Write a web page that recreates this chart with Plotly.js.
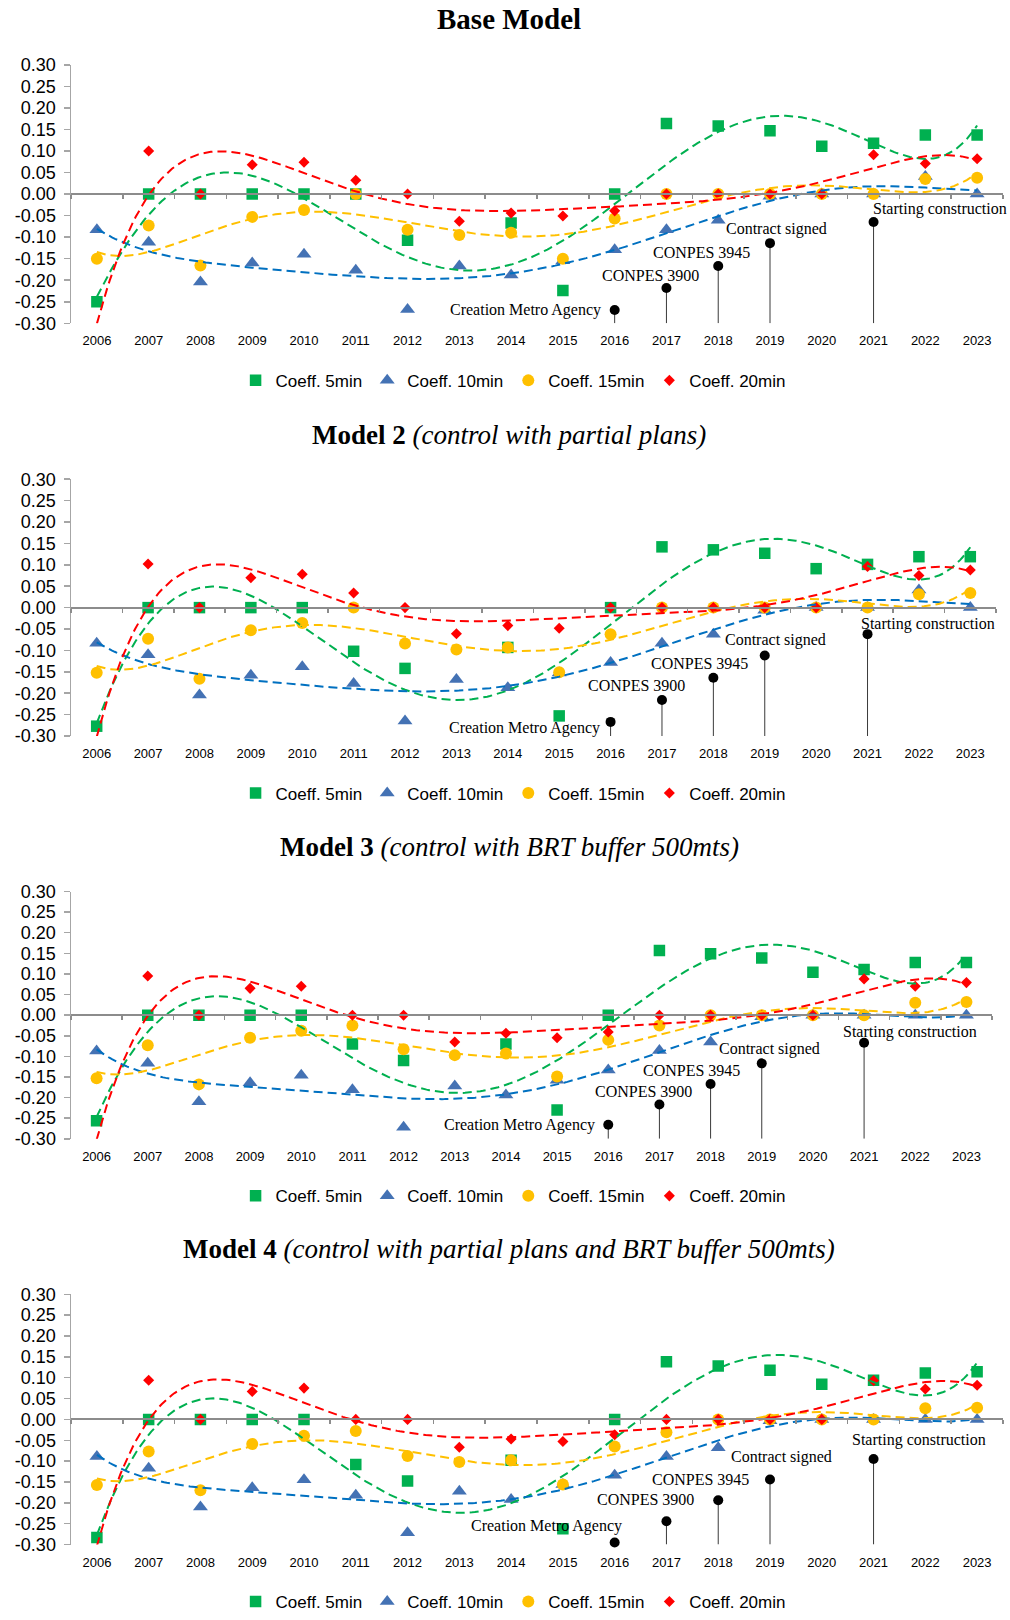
<!DOCTYPE html>
<html><head><meta charset="utf-8">
<script src="https://cdn.plot.ly/plotly-3.0.1.min.js"></script>
<style>html,body{margin:0;padding:0;background:#fff}#chart{width:1010px;height:1620px}</style>
</head><body><div id="chart"></div>
<script>
// ---------- DATA ----------
const years = [2006,2007,2008,2009,2010,2011,2012,2013,2014,2015,2016,2017,2018,2019,2020,2021,2022,2023];
const yTickVals = [-0.30,-0.25,-0.20,-0.15,-0.10,-0.05,0,0.05,0.10,0.15,0.20,0.25,0.30];
const yTickText = ['-0.30','-0.25','-0.20','-0.15','-0.10','-0.05','0.00','0.05','0.10','0.15','0.20','0.25','0.30'];
const seriesNames = ['Coeff. 5min','Coeff. 10min','Coeff. 15min','Coeff. 20min'];
const titleBold = ['Base Model','Model 2','Model 3','Model 4'];
const titleItalic = ['','(control with partial plans)','(control with BRT buffer 500mts)','(control with partial plans and BRT buffer 500mts)'];
const eventYears = [2016,2017,2018,2019,2021];
const eventLabels = ['Creation Metro Agency','CONPES 3900','CONPES 3945','Contract signed','Starting construction'];

// Base Model (values below -0.30 lie outside the plotted range, as in the original)
const base5  = [-0.250,0,0,0,0,0,-0.107,-0.320,-0.067,-0.224,0,0.164,0.158,0.147,0.111,0.118,0.137,0.137];
const base10 = [-0.083,-0.112,-0.204,-0.160,-0.140,-0.177,-0.268,-0.167,-0.188,-0.155,-0.129,-0.083,-0.061,-0.005,0,0,0.041,0];
const base15 = [-0.150,-0.073,-0.166,-0.053,-0.037,0,-0.083,-0.095,-0.090,-0.150,-0.057,0,0,0,0,0,0.035,0.038];
const base20 = [-0.330,0.100,0,0.068,0.074,0.032,0,-0.063,-0.044,-0.051,-0.039,0,0,0,0,0.091,0.071,0.082];
const baseEvents = [-0.269,-0.218,-0.167,-0.114,-0.065];

// Model 2
const m2_5  = [-0.277,0,0,0,0,-0.102,-0.142,-0.350,-0.093,-0.253,0,0.142,0.135,0.127,0.091,0.101,0.119,0.119];
const m2_10 = [-0.083,-0.110,-0.204,-0.158,-0.138,-0.177,-0.265,-0.168,-0.187,-0.153,-0.128,-0.083,-0.062,-0.006,0,0,0.041,0];
const m2_15 = [-0.152,-0.073,-0.166,-0.053,-0.036,0,-0.084,-0.098,-0.093,-0.151,-0.062,0,0,0,0,0,0.031,0.034];
const m2_20 = [-0.330,0.102,0,0.070,0.078,0.034,0,-0.061,-0.042,-0.048,0,0,0,0,0,0.096,0.075,0.088];
const m2Events = [-0.267,-0.216,-0.164,-0.112,-0.062];

// Model 3
const m3_5  = [-0.256,0,0,0,0,-0.070,-0.110,-0.320,-0.070,-0.230,0,0.157,0.149,0.139,0.104,0.111,0.128,0.128];
const m3_10 = [-0.087,-0.117,-0.210,-0.164,-0.146,-0.181,-0.272,-0.172,-0.194,-0.158,-0.133,-0.086,-0.065,-0.004,0,0,0,0];
const m3_15 = [-0.153,-0.073,-0.168,-0.055,-0.038,-0.025,-0.083,-0.097,-0.093,-0.149,-0.060,-0.025,0,0,0,0,0.030,0.032];
const m3_20 = [-0.330,0.095,0,0.065,0.070,0,0,-0.065,-0.044,-0.055,-0.041,0,0,0,0,0.088,0.070,0.079];
const m3Events = [-0.266,-0.217,-0.167,-0.117,-0.067];

// Model 4
const m4_5  = [-0.283,0,0,0,0,-0.108,-0.148,-0.365,-0.098,-0.262,0,0.138,0.128,0.118,0.084,0.094,0.111,0.114];
const m4_10 = [-0.089,-0.117,-0.210,-0.164,-0.145,-0.182,-0.272,-0.172,-0.192,-0.156,-0.134,-0.089,-0.068,-0.003,0,0,0,0];
const m4_15 = [-0.157,-0.077,-0.170,-0.059,-0.039,-0.028,-0.088,-0.102,-0.098,-0.156,-0.065,-0.031,0,0,0,0,0.027,0.028];
const m4_20 = [-0.330,0.094,0,0.067,0.075,0,0,-0.067,-0.047,-0.053,-0.037,0,0,0,0,0.093,0.073,0.082];
const m4Events = [-0.295,-0.244,-0.194,-0.144,-0.095];

// ---------- STYLE / LAYOUT CONFIG ----------
const panelSeries = [[base5,base10,base15,base20],[m2_5,m2_10,m2_15,m2_20],[m3_5,m3_10,m3_15,m3_20],[m4_5,m4_10,m4_15,m4_20]];
const panelEvents = [baseEvents,m2Events,m3Events,m4Events];
const markerStyle = [
  {symbol:'square', color:'#00B050', size:11.5},
  {symbol:'triangle-up', color:'#4472B4', size:13},
  {symbol:'circle', color:'#FFC000', size:12},
  {symbol:'diamond', color:'#FF0000', size:8.5}
];
const trendColor = ['#00B050','#0070C0','#FFC000','#FF0000'];
const H = 1620, W = 1010;
// pixel boxes of the plot areas [left,right,top,bottom]
const boxes = [[71,1003,65,324.3],[71,996,480.7,738.3],[71,992,894.3,1142.3],[71,1003,1298.3,1549.3]];
const titleY = [19,436,850,1253];
const titleSize = [29,27,27,27];
const legendY = [382,796,1200,1607];
// label offsets (px) relative to the event dot: [xanchor, xshift, yshift]
const labelOffsets = [
  [['right',-12,0],['center',-16,12],['center',-17,13],['center',6,14],['center',66,13]],
  [['right',-9,-6],['center',-25,15],['center',-14,14],['center',11,16],['center',60,10]],
  [['right',-11,0],['center',-16,13],['center',-19,13],['center',8,14],['center',46,11]],
  [['center',-68,16],['center',-21,22],['center',-18,21],['center',11,22],['center',45,19]]
];

function polyTrend(vals, deg) {
  const n = deg + 1, c = 9.5, s = 8.5;
  const M = Array.from({length: n}, () => new Array(n + 1).fill(0));
  vals.forEach((v, i) => {
    if (v === null) return;
    const t = ((i + 1) - c) / s;
    const p = [];
    for (let k = 0; k < 2 * n; k++) p.push(Math.pow(t, k));
    for (let a = 0; a < n; a++) {
      for (let b = 0; b < n; b++) M[a][b] += p[a + b];
      M[a][n] += p[a] * v;
    }
  });
  for (let col = 0; col < n; col++) {
    let piv = col;
    for (let r = col + 1; r < n; r++) if (Math.abs(M[r][col]) > Math.abs(M[piv][col])) piv = r;
    const tmp = M[col]; M[col] = M[piv]; M[piv] = tmp;
    for (let r = 0; r < n; r++) {
      if (r === col) continue;
      const f = M[r][col] / M[col][col];
      for (let k = col; k <= n; k++) M[r][k] -= f * M[col][k];
    }
  }
  const coef = M.map((row, i) => row[n] / row[i]);
  return idx => { const t = (idx - c) / s; let v = 0; for (let i = n - 1; i >= 0; i--) v = v * t + coef[i]; return v; };
}

const fineIdx = [];
for (let k = 0; k <= 340; k++) fineIdx.push(1 + k * 0.05);
const fineYears = fineIdx.map(i => years[0] - 1 + i);
const boundaries = years.map(y => y - 0.5).concat([years[years.length - 1] + 0.5]);

const traces = [];
const annotations = [];
const layout = {
  width: W, height: H, margin: {l:0, r:0, t:0, b:0},
  paper_bgcolor: '#fff', plot_bgcolor: 'rgba(0,0,0,0)',
  showlegend: true, hovermode: false
};

for (let p = 0; p < 4; p++) {
  const n = p + 1, sfx = n === 1 ? '' : String(n);
  const ov = String(n + 4);
  const [l, r, t, b] = boxes[p];
  const xd = [l / W, r / W], yd = [1 - b / H, 1 - t / H];
  const legId = 'legend' + sfx;

  layout['xaxis' + sfx] = {
    domain: xd, anchor: 'y' + sfx, range: [2005.5, 2023.5],
    tickvals: years, ticktext: years.map(String), ticks: '', ticklabelstandoff: 8,
    showline: false, showgrid: false, zeroline: false, fixedrange: true,
    tickfont: {family: 'Liberation Sans, Arial, sans-serif', size: 13, color: '#000'}
  };
  layout['xaxis' + ov] = {
    overlaying: 'x' + sfx, anchor: 'free', position: (yd[0] + yd[1]) / 2, side: 'bottom',
    domain: xd, range: [2005.5, 2023.5], tickvals: boundaries, ticks: 'outside', ticklen: 4,
    tickwidth: 1.5, tickcolor: '#8c8c8c', showticklabels: false, showline: true,
    linecolor: '#8c8c8c', linewidth: 2, showgrid: false, zeroline: false, fixedrange: true
  };
  layout['yaxis' + sfx] = {
    domain: yd, anchor: 'x' + sfx, range: [-0.3, 0.3],
    tickvals: yTickVals, ticktext: yTickText, ticks: 'outside', ticklen: 6, tickwidth: 1.5,
    tickcolor: '#a6a6a6', ticklabelstandoff: 4, showline: true, linecolor: '#a6a6a6', linewidth: 1.5,
    showgrid: false, zeroline: false, fixedrange: true,
    tickfont: {family: 'Liberation Sans, Arial, sans-serif', size: 18, color: '#000'}
  };
  layout[legId] = {
    orientation: 'h', x: 0.508, xanchor: 'center', y: 1 - legendY[p] / H, yanchor: 'middle',
    bgcolor: 'rgba(0,0,0,0)', font: {family: 'Liberation Sans, Arial, sans-serif', size: 17, color: '#000'},
    itemclick: false, itemdoubleclick: false
  };

  // scatter markers
  panelSeries[p].forEach((vals, s) => {
    traces.push({
      type: 'scatter', mode: 'markers', x: years, y: vals, name: seriesNames[s],
      xaxis: 'x' + sfx, yaxis: 'y' + sfx, legend: legId, showlegend: true,
      marker: {symbol: markerStyle[s].symbol, color: markerStyle[s].color, size: markerStyle[s].size},
      cliponaxis: true, hoverinfo: 'skip'
    });
  });

  // event markers with stems down to axis bottom
  const ev = panelEvents[p];
  traces.push({
    type: 'scatter', mode: 'markers', x: eventYears, y: ev, showlegend: false,
    xaxis: 'x' + sfx, yaxis: 'y' + sfx, cliponaxis: false, hoverinfo: 'skip',
    marker: {color: '#000', size: 10},
    error_y: {type: 'data', symmetric: false, array: ev.map(() => 0), arrayminus: ev.map(v => v + 0.3),
              width: 0, thickness: 1, color: '#3a3a3a'}
  });
  ev.forEach((v, i) => {
    const [xa, xs, ys] = labelOffsets[p][i];
    annotations.push({
      xref: 'x' + sfx, yref: 'y' + sfx, x: eventYears[i], y: v, text: eventLabels[i],
      showarrow: false, xanchor: xa, yanchor: 'middle', xshift: xs, yshift: ys,
      font: {family: 'Liberation Serif, Times New Roman, serif', size: 16, color: '#000'}
    });
  });

  // polynomial (order 6) trendlines
  panelSeries[p].forEach((vals, s) => {
    const f = polyTrend(vals, 6);
    traces.push({
      type: 'scatter', mode: 'lines', x: fineYears, y: fineIdx.map(f), showlegend: false,
      xaxis: 'x' + ov, yaxis: 'y' + sfx, hoverinfo: 'skip',
      line: {color: trendColor[s], width: 2, dash: '9px,5px'}
    });
  });

  // panel title
  const tt = '<b>' + titleBold[p] + '</b>' + (titleItalic[p] ? ' <i>' + titleItalic[p] + '</i>' : '');
  annotations.push({
    xref: 'paper', yref: 'paper', x: 0.504, y: 1 - titleY[p] / H, text: tt, showarrow: false,
    xanchor: 'center', yanchor: 'middle',
    font: {family: 'Liberation Serif, Times New Roman, serif', size: titleSize[p], color: '#000'}
  });
}
layout.annotations = annotations;

Plotly.newPlot('chart', traces, layout, {staticPlot: true, displayModeBar: false});
</script>
</body></html>
